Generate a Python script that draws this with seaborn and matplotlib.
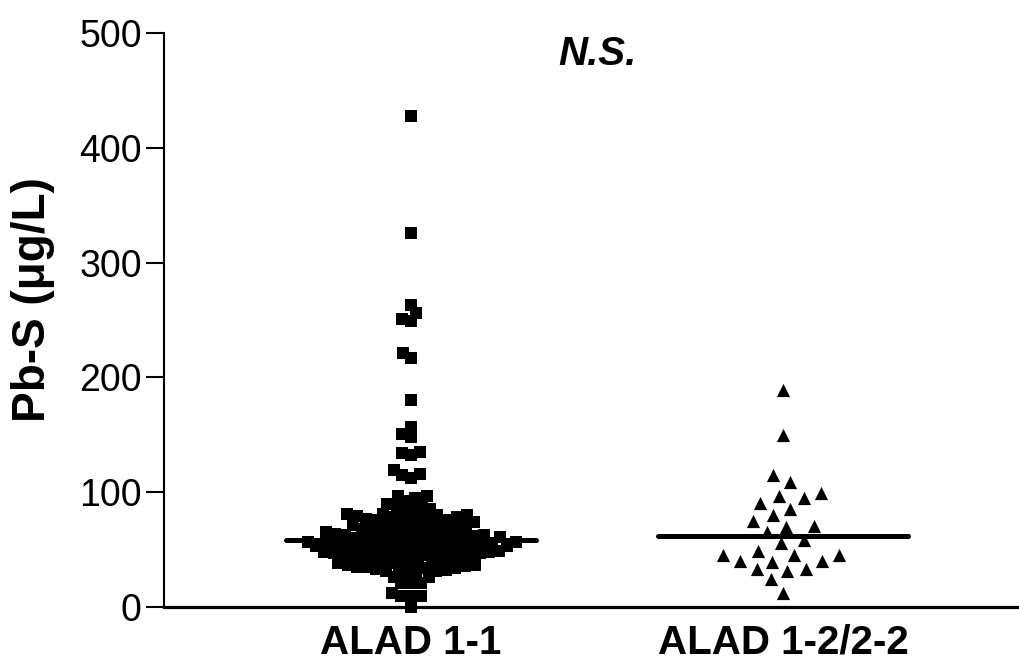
import numpy as np
import pandas as pd
import matplotlib
matplotlib.use("Agg")
import matplotlib.pyplot as plt
from matplotlib.transforms import Affine2D
import seaborn as sns

# Serum lead (Pb-S, µg/L) by ALAD genotype
categories = ["ALAD 1-1", "ALAD 1-2/2-2"]

alad_11 = [
    428, 326, 263, 256, 251, 249, 221, 217, 180, 157, 151, 148, 135, 134,
    132, 119, 116, 115, 112,
    97, 97, 95, 92, 90, 90, 89, 87, 85, 83,
    82, 81, 81, 80, 80, 79, 79, 78, 78, 77, 77, 76, 76, 75, 74, 74,
    73, 72, 71, 71, 70, 70, 69, 68, 68, 67, 67, 66, 66, 65, 65, 64, 64,
    63, 63, 63, 62, 62, 61, 61, 60, 60, 60, 59, 59, 58, 58, 58, 57, 57,
    57, 56, 56, 55, 55, 54, 54, 53, 53, 53, 52, 52, 51, 51, 50, 50, 49,
    49, 48, 48, 47, 47, 46, 46, 45, 45, 44, 43, 43, 42, 41, 40,
    56, 55, 54, 52, 50, 48, 46, 44, 42, 38, 36, 33, 41, 37,
    39, 38, 37, 36, 35, 35, 34, 34, 33, 32, 31, 31, 30, 28, 26, 26,
    21, 21, 21, 12, 10, 10, 10, 0,
]

alad_12_22 = [
    189, 150, 115, 109, 99, 97, 95, 91, 85, 80, 75, 70, 70.5, 65, 58,
    55.5, 49, 45, 40, 39.5, 40, 45, 45, 33, 31, 33, 24, 12.5,
]

y_ticks = [0, 100, 200, 300, 400, 500]
y_label = "Pb-S (μg/L)"
annotation = "N.S."

df = pd.DataFrame({
    "group": [categories[0]] * len(alad_11) + [categories[1]] * len(alad_12_22),
    "value": alad_11 + alad_12_22,
})

sns.set_style("ticks")
plt.rcParams["font.family"] = ["Liberation Sans", "DejaVu Sans"]
for key in ("text.color", "axes.labelcolor", "xtick.color", "ytick.color",
            "axes.edgecolor"):
    plt.rcParams[key] = "black"

fig = plt.figure(figsize=(10.19, 6.69), dpi=100)
ax = fig.add_axes([0.161, 0.0927, 0.839, 0.858])

# (marker, swarm spacing size, drawn marker scale)
styles = [("s", 6.7, 1.38), ("^", 12.5, 0.76)]
for cat, (mk, sz, grow) in zip(categories, styles):
    sub = df[df["group"] == cat]
    n_before = len(ax.collections)
    sns.swarmplot(data=sub, x="group", y="value", order=categories,
                  marker=mk, color="black", size=sz, linewidth=0,
                  clip_on=False, zorder=3, ax=ax)
    # draw the markers at their own size, independent of swarm spacing
    for coll in ax.collections[n_before:]:
        coll.set_paths([Affine2D().scale(grow).transform_path(p)
                        for p in coll.get_paths()])

# median lines
half = 0.336
for i, cat in enumerate(categories):
    med = np.median(df.loc[df["group"] == cat, "value"])
    ax.hlines(med, i - half, i + half, color="black", lw=3.6,
              capstyle="round", zorder=4)

ax.set_xlim(-0.664, 1.634)
ax.set_ylim(0, 500)
ax.set_yticks(y_ticks)
ax.set_yticklabels([str(t) for t in y_ticks], fontsize=27)
ax.set_xlabel("")
ax.set_ylabel(y_label, fontsize=33, fontweight="bold")
ax.yaxis.set_label_coords(-0.128, 0.535)
ax.tick_params(axis="y", direction="out", length=13, width=1.5, pad=3)
ax.tick_params(axis="x", length=0, pad=12)
for lbl in ax.get_xticklabels():
    lbl.set_fontsize(29)
    lbl.set_fontweight("bold")

sns.despine(ax=ax)
ax.spines["left"].set_linewidth(1.5)
ax.spines["bottom"].set_linewidth(2.3)

ax.text(0.5, 482, annotation, ha="center", va="center", fontsize=29,
        fontweight="bold", fontstyle="italic")

fig.savefig("out.png", dpi=100)
